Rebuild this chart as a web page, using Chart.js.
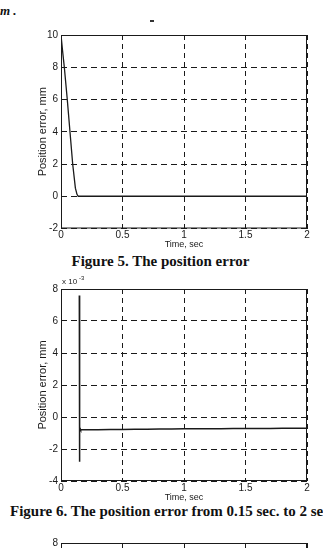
<!DOCTYPE html>
<html>
<head>
<meta charset="utf-8">
<script src="https://cdn.jsdelivr.net/npm/chart.js@4.4.1/dist/chart.umd.min.js"></script>
<style>
  html, body { margin: 0; padding: 0; background: #fff; }
  body { width: 323px; height: 548px; position: relative; overflow: hidden; }
  canvas { position: absolute; left: 0; }
  .cap { position: absolute; font-family: "Liberation Serif", "Times New Roman", serif; font-weight: bold; font-size: 15px; color: #111; white-space: nowrap; }
  #frag { position: absolute; left: 0; top: 3px; font-family: "Liberation Serif", serif; font-weight: bold; font-style: italic; font-size: 13px; color: #111; }
  #tick { position: absolute; left: 150px; top: 20px; width: 4px; height: 2px; background: #333; }
</style>
</head>
<body>
<div id="frag">m .</div>
<div id="tick"></div>

<canvas id="fig5" width="323" height="230" style="top:20px"></canvas>
<div class="cap" style="left:0;width:321px;text-align:center;top:253px">Figure 5. The position error</div>

<canvas id="fig6" width="323" height="228" style="top:275px"></canvas>
<div class="cap" style="left:10px;top:503px">Figure 6. The position error from 0.15 sec. to 2 sec.</div>

<canvas id="fig7" width="323" height="120" style="top:530px"></canvas>

<script>
// ---- data ----
// Figure 5: position error (mm) vs time (sec)
const fig5Time = [0, 0.013, 0.027, 0.051, 0.073, 0.095, 0.117, 0.13, 0.14, 0.16, 0.5, 1, 1.5, 2];
const fig5Err  = [10, 9, 8, 6, 4, 2, 0.5, 0.12, 0, 0, 0, 0, 0, 0];

// Figure 6: position error (x 10^-3 mm) from 0.15 sec
const fig6Time = [0.149, 0.1495, 0.150, 0.151, 0.152, 0.154, 0.157, 0.16, 0.2, 0.3, 0.4, 0.5, 0.6, 0.7,
                  0.8, 0.9, 1.0, 1.1, 1.2, 1.3, 1.4, 1.5, 1.6, 1.7, 1.8, 1.9, 2.0];
const fig6Err  = [7.6, -2.8, -0.4, -1.0, -0.6, -0.9, -0.75, -0.8, -0.8, -0.8, -0.78, -0.78, -0.77, -0.76,
                  -0.75, -0.75, -0.74, -0.74, -0.73, -0.73, -0.72, -0.72, -0.72, -0.72, -0.71, -0.71, -0.71];

const timeTicks = [0, 0.5, 1, 1.5, 2];
const fig5Ticks = [-2, 0, 2, 4, 6, 8, 10];
const fig6Ticks = [-4, -2, 0, 2, 4, 6, 8];

const INK = "#1a1a1a";
const tickFont = { family: "Arial, 'Liberation Sans', sans-serif", size: 10 };
const titleFont = { family: "Arial, 'Liberation Sans', sans-serif", size: 11 };

/* =========================
   box around the plot (matlab "box on")
========================= */
const boxPlugin = {
  id: "box",
  afterDraw(chart, args, opts) {
    const { ctx, chartArea: a } = chart;
    ctx.save();
    ctx.strokeStyle = INK;
    ctx.lineWidth = 1;
    ctx.setLineDash([]);
    ctx.strokeRect(a.left + 0.5, a.top + 0.5, a.right - a.left - 1, a.bottom - a.top - 1);
    if (opts && opts.exponent) {
      ctx.fillStyle = INK;
      ctx.font = "8px Arial, 'Liberation Sans', sans-serif";
      ctx.textBaseline = "alphabetic";
      ctx.fillText("x 10", a.left + 1, a.top - 5);
      ctx.font = "6px Arial, 'Liberation Sans', sans-serif";
      ctx.fillText(opts.exponent, a.left + 18, a.top - 9);
    }
    ctx.restore();
  }
};

function makeAxes(yTicks, xHeight, showX) {
  return {
    x: {
      type: "linear",
      min: timeTicks[0],
      max: timeTicks[timeTicks.length - 1],
      afterBuildTicks: s => { s.ticks = timeTicks.map(v => ({ value: v })); },
      afterFit: s => { s.height = xHeight; },
      grid: { color: INK, lineWidth: 1, drawTicks: false },
      border: { display: false, dash: [5, 4] },
      ticks: { display: showX, color: INK, font: tickFont, padding: 1, maxRotation: 0, callback: v => String(v) },
      title: { display: showX, text: "Time, sec", color: INK, font: { ...tickFont, size: 9 }, padding: 0 }
    },
    y: {
      min: yTicks[0],
      max: yTicks[yTicks.length - 1],
      afterBuildTicks: s => { s.ticks = yTicks.map(v => ({ value: v })); },
      afterFit: s => { s.width = 61; },
      grid: { color: INK, lineWidth: 1, drawTicks: false },
      border: { display: false, dash: [6, 4] },
      ticks: { color: INK, font: tickFont, padding: 3, callback: v => String(v) },
      title: { display: showX, text: "Position error, mm", color: INK, font: titleFont, padding: { top: 36, bottom: 0 } }
    }
  };
}

function lineChart(id, xs, ys, yTicks, xHeight, padTop, width, extra) {
  const pts = xs.map((t, i) => ({ x: t, y: ys[i] }));
  return new Chart(document.getElementById(id), {
    type: "scatter",
    data: {
      datasets: [{
        data: pts,
        showLine: true,
        borderColor: INK,
        borderWidth: width,
        pointRadius: 0,
        tension: 0
      }]
    },
    options: {
      responsive: false,
      animation: false,
      layout: { padding: { left: 0, right: 16, top: padTop, bottom: 0 } },
      plugins: { legend: { display: false }, tooltip: { enabled: false }, box: extra || {} },
      scales: makeAxes(yTicks, xHeight, true)
    },
    plugins: [boxPlugin]
  });
}

lineChart("fig5", fig5Time, fig5Err, fig5Ticks, 21.5, 15, 1.3);
lineChart("fig6", fig6Time, fig6Err, fig6Ticks, 22, 14, 1.5, { exponent: "-3" });

// next figure, only its top edge is on the page
new Chart(document.getElementById("fig7"), {
  type: "scatter",
  data: { datasets: [] },
  options: {
    responsive: false,
    animation: false,
    layout: { padding: { left: 0, right: 16, top: 13, bottom: 0 } },
    plugins: { legend: { display: false }, tooltip: { enabled: false } },
    scales: makeAxes(fig6Ticks, 22, false)
  },
  plugins: [boxPlugin]
});
</script>
</body>
</html>
